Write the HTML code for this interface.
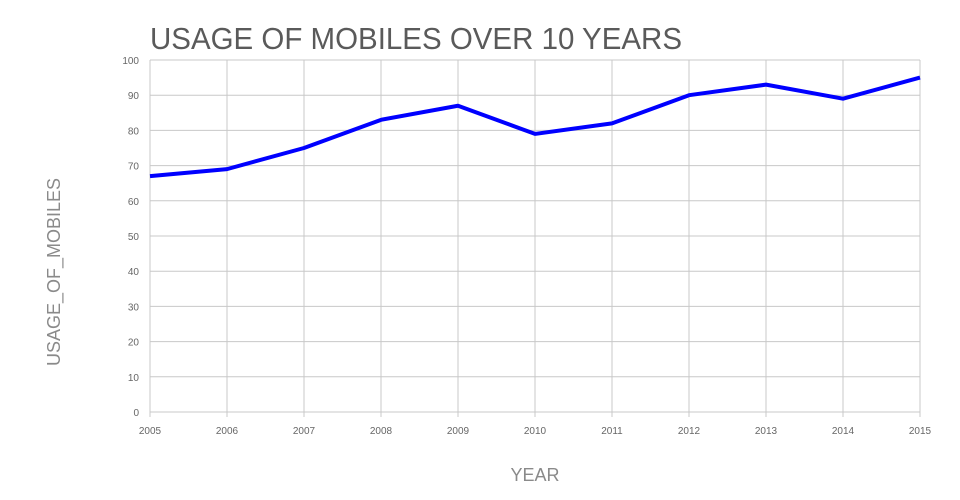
<!DOCTYPE html>
<html><head><meta charset="utf-8"><style>
html,body{margin:0;padding:0;background:#fff;width:960px;height:500px;overflow:hidden}
text{font-family:"Liberation Sans",sans-serif}
</style></head><body>
<svg id="chart" width="960" height="500">
<text x="150" y="49" font-size="31" fill="#5a5a5a" textLength="532" lengthAdjust="spacingAndGlyphs">USAGE OF MOBILES OVER 10 YEARS</text>
<g id="grid"></g><g id="ticks"></g>
<text x="535" y="481" font-size="18" fill="#8a8a8a" text-anchor="middle">YEAR</text>
<text transform="translate(60,272) rotate(-90)" font-size="18" fill="#8a8a8a" text-anchor="middle">USAGE_OF_MOBILES</text>
<g id="series"></g>
</svg>
<script>
const years=[2005,2006,2007,2008,2009,2010,2011,2012,2013,2014,2015];
const usage=[67,69,75,83,87,79,82,90,93,89,95];
const yTicks=[0,10,20,30,40,50,60,70,80,90,100];
const NS="http://www.w3.org/2000/svg";
const x0=150,x1=920,y0=412,y1=60;
function xs(i){return x0+(x1-x0)*i/(years.length-1);}
function ys(v){return y0-(y0-y1)*v/100;}
const grid=document.getElementById('grid'),ticks=document.getElementById('ticks'),series=document.getElementById('series');
function mk(tag,attrs,parent){const e=document.createElementNS(NS,tag);for(const k in attrs)e.setAttribute(k,attrs[k]);parent.appendChild(e);return e;}
yTicks.forEach(v=>{
 const l=mk('line',{x1:x0,x2:x1,y1:ys(v),y2:ys(v),stroke:'#c8c8c8','stroke-width':1},grid);
 
 
 const t=mk('text',{x:x0-11,y:ys(v)+4,'font-size':10,fill:'#666','text-anchor':'end'},ticks);
 t.textContent=v;
 
 
});
years.forEach((yr,i)=>{
 const l=mk('line',{x1:xs(i),x2:xs(i),y1:y1,y2:y0+5,stroke:'#c8c8c8','stroke-width':1},grid);
 
 
 const t=mk('text',{x:xs(i),y:434,'font-size':10,fill:'#666','text-anchor':'middle'},ticks);
 t.textContent=yr;
 
 
});
const p=mk('polyline',{points:usage.map((v,i)=>xs(i)+','+ys(v)).join(' '),fill:'none',stroke:'#0000ff','stroke-width':4,'stroke-linejoin':'round'},series);


</script>
</body></html>
